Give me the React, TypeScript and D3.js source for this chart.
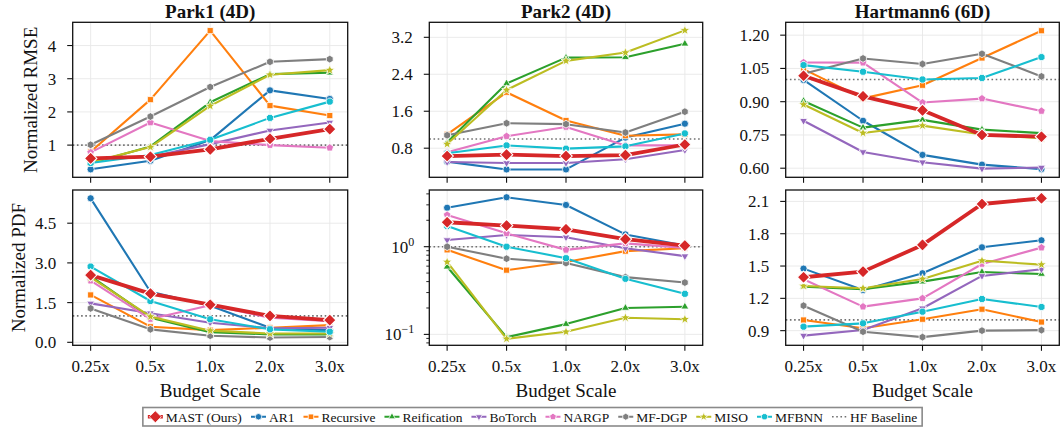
import React, { useMemo } from "react";
import * as d3 from "d3";

// ---------------- data ----------------
const budgets = ["0.25x", "0.5x", "1.0x", "2.0x", "3.0x"];
const methods = ["MAST (Ours)", "AR1", "Recursive", "Reification", "BoTorch", "NARGP", "MF-DGP", "MISO", "MFBNN"];
const titles = ["Park1 (4D)", "Park2 (4D)", "Hartmann6 (6D)"];
const rowLabels = ["Normalized RMSE", "Normalized PDF"];

// rows follow `methods` order
const park1Rmse = [
  [0.60, 0.65, 0.87, 1.19, 1.48],
  [0.27, 0.53, 1.15, 2.65, 2.39],
  [0.80, 2.37, 4.45, 2.19, 1.89],
  [0.45, 0.96, 2.29, 3.14, 3.18],
  [0.58, 0.65, 1.03, 1.44, 1.68],
  [0.78, 1.68, 1.12, 1.00, 0.92],
  [1.01, 1.86, 2.75, 3.51, 3.59],
  [0.48, 0.94, 2.18, 3.12, 3.26],
  [0.46, 0.70, 1.16, 1.82, 2.31],
];
const park2Rmse = [
  [0.63, 0.66, 0.63, 0.65, 0.88],
  [0.51, 0.34, 0.34, 1.03, 1.33],
  [1.10, 2.01, 1.40, 1.07, 1.10],
  [0.93, 2.20, 2.76, 2.77, 3.06],
  [0.50, 0.48, 0.48, 0.56, 0.76],
  [0.71, 1.06, 1.26, 0.86, 0.86],
  [1.08, 1.34, 1.32, 1.14, 1.59],
  [0.89, 2.06, 2.69, 2.87, 3.35],
  [0.69, 0.86, 0.79, 0.84, 1.12],
];
const hartmannRmse = [
  [1.017, 0.924, 0.861, 0.750, 0.742],
  [0.998, 0.814, 0.660, 0.616, 0.596],
  [1.047, 0.915, 0.974, 1.097, 1.220],
  [0.903, 0.783, 0.818, 0.774, 0.758],
  [0.814, 0.673, 0.627, 0.598, 0.603],
  [1.077, 1.076, 0.896, 0.914, 0.858],
  [1.026, 1.095, 1.070, 1.116, 1.014],
  [0.887, 0.759, 0.792, 0.752, 0.735],
  [1.065, 1.035, 1.000, 1.007, 1.101],
];
const park1Pdf = [
  [2.54, 1.84, 1.42, 1.00, 0.84],
  [5.44, 1.91, 1.38, 0.55, 0.45],
  [1.79, 0.59, 0.46, 0.55, 0.65],
  [2.50, 0.93, 0.38, 0.30, 0.30],
  [1.47, 1.10, 0.74, 0.53, 0.55],
  [2.33, 0.88, 1.40, 0.93, 0.80],
  [1.28, 0.49, 0.25, 0.18, 0.20],
  [2.45, 0.97, 0.44, 0.33, 0.33],
  [2.86, 1.56, 0.87, 0.49, 0.40],
];
const park2Pdf = [
  [1.90, 1.74, 1.58, 1.22, 1.03],
  [2.78, 3.66, 2.99, 1.38, 1.03],
  [0.92, 0.54, 0.67, 0.89, 0.96],
  [0.59, 0.093, 0.131, 0.20, 0.207],
  [1.19, 1.36, 1.28, 0.96, 0.78],
  [2.30, 1.42, 0.92, 1.09, 0.97],
  [1.00, 0.73, 0.65, 0.45, 0.39],
  [0.67, 0.089, 0.107, 0.155, 0.149],
  [1.72, 1.00, 0.74, 0.43, 0.29],
];
const hartmannPdf = [
  [1.396, 1.448, 1.696, 2.076, 2.129],
  [1.476, 1.278, 1.433, 1.674, 1.739],
  [0.999, 0.922, 1.006, 1.099, 0.980],
  [1.309, 1.284, 1.355, 1.445, 1.426],
  [0.854, 0.906, 1.108, 1.408, 1.470],
  [1.377, 1.123, 1.200, 1.519, 1.671],
  [1.132, 0.890, 0.840, 0.900, 0.905],
  [1.315, 1.294, 1.380, 1.550, 1.513],
  [0.937, 0.968, 1.076, 1.194, 1.120],
];
const hfBaseline = 1;

const park1RmseTicks = [1, 2, 3, 4];
const park2RmseTicks = [0.8, 1.6, 2.4, 3.2];
const hartmannRmseTicks = [0.6, 0.75, 0.9, 1.05, 1.2];
const park1PdfTicks = [0, 1.5, 3, 4.5];
const park2PdfTicks = [0.1, 1];
const hartmannPdfTicks = [0.9, 1.2, 1.5, 1.8, 2.1];

// ---------------- styles ----------------
const colors = ["#d62728", "#1f77b4", "#ff7f0e", "#2ca02c", "#9467bd", "#e377c2", "#7f7f7f", "#bcbd22", "#17becf"];
const markers = ["D", "o", "s", "^", "v", "p", "h", "*", "8"];
const FONT = "'Liberation Serif', 'Times New Roman', 'DejaVu Serif', serif";
const W = 1062;
const H = 431;
const colX: [number, number][] = [[72.7, 347.7], [429.3, 702.7], [785.7, 1059.3]];
const rowY: [number, number][] = [[22.3, 177.3], [190, 345.3]];
const ylabelX = [36.5, 25];

function polygon(n: number, r: number, rot: number) {
  const pts = d3.range(n).map((i) => {
    const a = rot + (i * 2 * Math.PI) / n;
    return [r * Math.sin(a), -r * Math.cos(a)];
  });
  return "M" + pts.map((p) => p[0].toFixed(2) + "," + p[1].toFixed(2)).join("L") + "Z";
}
function starPath(r: number) {
  const pts = d3.range(10).map((i) => {
    const a = (i * Math.PI) / 5;
    const rr = i % 2 === 0 ? r : r * 0.42;
    return [rr * Math.sin(a), -rr * Math.cos(a)];
  });
  return "M" + pts.map((p) => p[0].toFixed(2) + "," + p[1].toFixed(2)).join("L") + "Z";
}
function markerPath(m: string, r: number) {
  switch (m) {
    case "D":
      return polygon(4, r, 0);
    case "o":
      return `M${r},0A${r},${r} 0 1,1 ${-r},0A${r},${r} 0 1,1 ${r},0Z`;
    case "s":
      return polygon(4, r * 1.2, Math.PI / 4);
    case "^":
      return polygon(3, r * 1.25, 0);
    case "v":
      return polygon(3, r * 1.25, Math.PI);
    case "p":
      return polygon(5, r * 1.12, 0);
    case "h":
      return polygon(6, r * 1.08, 0);
    case "*":
      return starPath(r * 1.45);
    case "8":
      return polygon(8, r * 1.05, Math.PI / 8);
    default:
      return polygon(4, r, 0);
  }
}

type PanelProps = {
  col: number;
  row: number;
  data: number[][];
  domain: [number, number];
  ticks: number[];
  fmt: (v: number) => string;
  log?: boolean;
};

function Panel({ col, row, data, domain, ticks, fmt, log }: PanelProps) {
  const [x0, x1] = colX[col];
  const [y0, y1] = rowY[row];
  const xs = d3.scalePoint<string>().domain(budgets).range([x0, x1]).padding(0.3);
  const ys = log
    ? d3.scaleLog().domain(domain).range([y1, y0])
    : d3.scaleLinear().domain(domain).range([y1, y0]);
  const line = d3
    .line<number>()
    .x((_, i) => xs(budgets[i]) as number)
    .y((d) => ys(d));
  const order = [1, 2, 3, 4, 5, 6, 7, 8, 0];
  const minor = log
    ? (ys as d3.ScaleLogarithmic<number, number>)
        .ticks()
        .filter((t) => Math.abs(Math.log10(t) - Math.round(Math.log10(t))) > 1e-6)
        .filter((t) => t >= domain[0] && t <= domain[1])
    : [];
  const tickFont = 17;
  return (
    <g>
      {/* grid */}
      {budgets.map((b) => (
        <line key={"gx" + b} x1={xs(b)} x2={xs(b)} y1={y0} y2={y1} stroke="#e8e8e8" strokeWidth={0.9} />
      ))}
      {ticks.map((t) => (
        <line key={"gy" + t} x1={x0} x2={x1} y1={ys(t)} y2={ys(t)} stroke="#e8e8e8" strokeWidth={0.9} />
      ))}
      {/* baseline */}
      <line x1={x0} x2={x1} y1={ys(hfBaseline)} y2={ys(hfBaseline)} stroke="#707070" strokeWidth={1.6} strokeDasharray="1.6,2.6" />
      {/* series */}
      {order.map((k) => {
        const isMain = k === 0;
        const r = isMain ? 6.2 : 3.6;
        return (
          <g key={"s" + k}>
            <path d={line(data[k]) || ""} fill="none" stroke={colors[k]} strokeWidth={isMain ? 3.8 : 2.1} strokeLinejoin="round" />
            {data[k].map((v, i) => (
              <path
                key={i}
                d={markerPath(markers[k], r)}
                transform={`translate(${xs(budgets[i])},${ys(v)})`}
                fill={colors[k]}
                stroke="#ffffff"
                strokeWidth={isMain ? 1.1 : 0.8}
              />
            ))}
          </g>
        );
      })}
      {/* frame */}
      <rect x={x0} y={y0} width={x1 - x0} height={y1 - y0} fill="none" stroke="#111" strokeWidth={1.3} />
      {/* x ticks */}
      {budgets.map((b) => (
        <g key={"xt" + b}>
          <line x1={xs(b)} x2={xs(b)} y1={y1} y2={y1 + 5.5} stroke="#111" strokeWidth={1.1} />
          {row === 1 && (
            <text x={xs(b)} y={371.5} textAnchor="middle" fontFamily={FONT} fontSize={tickFont} fill="#111">
              {b}
            </text>
          )}
        </g>
      ))}
      {/* y ticks */}
      {ticks.map((t) => (
        <g key={"yt" + t}>
          <line x1={x0 - 5.5} x2={x0} y1={ys(t)} y2={ys(t)} stroke="#111" strokeWidth={1.1} />
          {log ? (
            <text x={x0 - 15} y={ys(t) + 6} textAnchor="end" fontFamily={FONT} fontSize={tickFont} fill="#111">
              10
              <tspan dy={-7} fontSize={12}>
                {Math.round(Math.log10(t)) < 0 ? "\u2212" + Math.abs(Math.round(Math.log10(t))) : String(Math.round(Math.log10(t)))}
              </tspan>
            </text>
          ) : (
            <text x={x0 - 16.5} y={ys(t) + 6} textAnchor="end" fontFamily={FONT} fontSize={tickFont} fill="#111">
              {fmt(t)}
            </text>
          )}
        </g>
      ))}
      {minor.map((t) => (
        <line key={"mt" + t} x1={x0 - 3} x2={x0} y1={ys(t)} y2={ys(t)} stroke="#111" strokeWidth={0.9} />
      ))}
      {row === 0 && (
        <text x={(x0 + x1) / 2} y={18} textAnchor="middle" fontFamily={FONT} fontWeight="bold" fontSize={19} fill="#111">
          {titles[col]}
        </text>
      )}
      {row === 1 && (
        <text x={(x0 + x1) / 2} y={396.5} textAnchor="middle" fontFamily={FONT} fontSize={19} fill="#111">
          Budget Scale
        </text>
      )}
      {col === 0 && (
        <text
          transform={`translate(${ylabelX[row]},${(y0 + y1) / 2}) rotate(-90)`}
          textAnchor="middle"
          fontFamily={FONT}
          fontSize={19}
          fill="#111"
        >
          {rowLabels[row]}
        </text>
      )}
    </g>
  );
}

function Legend() {
  const fontSize = 13.5;
  const layout = useMemo(() => {
    const labels = [...methods, "HF Baseline"];
    let widths: number[] = labels.map((l) => l.length * 6.5);
    try {
      const c = document.createElement("canvas");
      const ctx = c.getContext("2d");
      if (ctx) {
        ctx.font = `${fontSize}px ${FONT}`;
        widths = labels.map((l) => ctx.measureText(l).width);
      }
    } catch (e) {
      /* ignore */
    }
    const handle = 15;
    const gapText = 3;
    const gapEntry = 9;
    const pad = 5;
    let x = pad;
    const items = labels.map((l, i) => {
      const it = { label: l, hx: x, tx: x + handle + gapText, idx: i };
      x += handle + gapText + widths[i] + gapEntry;
      return it;
    });
    const total = x - gapEntry + pad;
    return { items, total, handle };
  }, []);
  const cx = 532.5;
  const left = cx - layout.total / 2;
  const top = 407.5;
  const h = 18.5;
  const cy = top + h / 2;
  return (
    <g>
      <rect x={left} y={top} width={layout.total} height={h} fill="#fff" stroke="#8a8a8a" strokeWidth={1.6} />
      {layout.items.map((it) => {
        const hx = left + it.hx;
        const isBase = it.idx === methods.length;
        const isMain = it.idx === 0;
        return (
          <g key={it.label}>
            {isBase ? (
              <line x1={hx} x2={hx + layout.handle} y1={cy} y2={cy} stroke="#707070" strokeWidth={1.6} strokeDasharray="1.6,2.6" />
            ) : (
              <g>
                <line x1={hx} x2={hx + layout.handle} y1={cy} y2={cy} stroke={colors[it.idx]} strokeWidth={isMain ? 3.5 : 2} />
                <path
                  d={markerPath(markers[it.idx], isMain ? 6 : 3.2)}
                  transform={`translate(${hx + layout.handle / 2},${cy})`}
                  fill={colors[it.idx]}
                  stroke="#fff"
                  strokeWidth={0.8}
                />
              </g>
            )}
            <text x={left + it.tx} y={cy + 4.8} fontFamily={FONT} fontSize={fontSize} fill="#111">
              {it.label}
            </text>
          </g>
        );
      })}
    </g>
  );
}

export default function App() {
  const f0 = (v: number) => d3.format("d")(v);
  const f1 = (v: number) => d3.format(".1f")(v);
  const f2 = (v: number) => d3.format(".2f")(v);
  return (
    <svg
      width={W}
      height={H}
      viewBox={`0 0 ${W} ${H}`}
      style={{ position: "absolute", left: 0, top: 0, background: "#fff" }}
    >
      <rect x={0} y={0} width={W} height={H} fill="#fff" />
      <Panel col={0} row={0} data={park1Rmse} domain={[0.03, 4.70]} ticks={park1RmseTicks} fmt={f0} />
      <Panel col={1} row={0} data={park2Rmse} domain={[0.17, 3.525]} ticks={park2RmseTicks} fmt={f1} />
      <Panel col={2} row={0} data={hartmannRmse} domain={[0.559, 1.258]} ticks={hartmannRmseTicks} fmt={f2} />
      <Panel col={0} row={1} data={park1Pdf} domain={[-0.113, 5.754]} ticks={park1PdfTicks} fmt={f1} />
      <Panel col={1} row={1} data={park2Pdf} domain={[0.0751, 4.43]} ticks={park2PdfTicks} fmt={f1} log />
      <Panel col={2} row={1} data={hartmannPdf} domain={[0.764, 2.206]} ticks={hartmannPdfTicks} fmt={f1} />
      <Legend />
    </svg>
  );
}
